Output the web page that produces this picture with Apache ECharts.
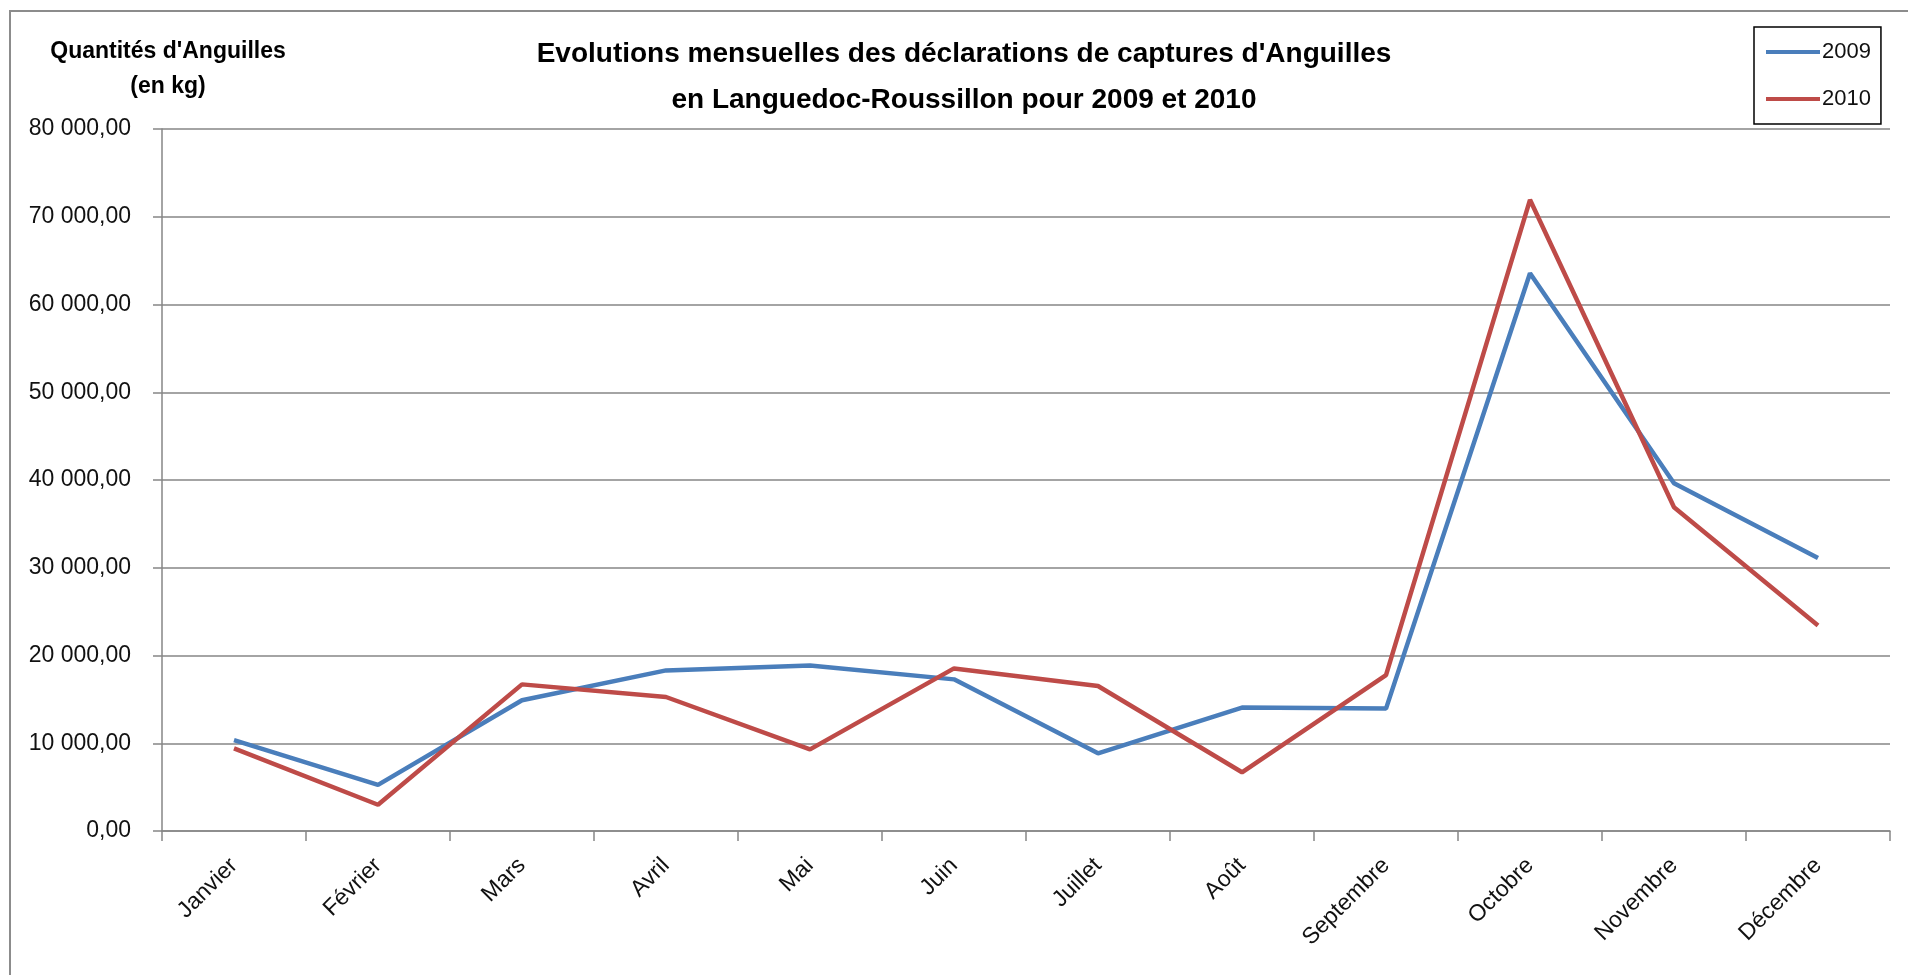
<!DOCTYPE html>
<html>
<head>
<meta charset="utf-8">
<script src="https://cdn.jsdelivr.net/npm/echarts@6/dist/echarts.min.js"></script>
<style>
  html, body { margin: 0; padding: 0; background: #fff; }
  #chart { width: 1908px; height: 975px; }
</style>
</head>
<body>
<div id="chart"></div>
<script>
// mois
const months = ['Janvier', 'Février', 'Mars', 'Avril', 'Mai', 'Juin', 'Juillet', 'Août', 'Septembre', 'Octobre', 'Novembre', 'Décembre']
// captures en kg
const values2009 = [10360, 5250, 14900, 18300, 18870, 17280, 8850, 14060, 13950, 63560, 39620, 31100]
const values2010 = [9410, 2990, 16710, 15270, 9300, 18530, 16520, 6690, 17770, 71930, 36890, 23410]
const yTicks = { min: 0, max: 80000, step: 10000 }

const font = 'Liberation Sans, Arial, sans-serif'
var Chart = echarts.init(document.getElementById('chart'), null, { renderer: 'canvas' })

// 80000 -> "80 000,00"
function formatKg(val) {
  return String(val).replace(/\B(?=(\d{3})+(?!\d))/g, ' ') + ',00'
}

var option = {
  backgroundColor: '#fff',
  animation: false,
  color: ['#4A7EBB', '#BE4B48'],
  graphic: [{
    type: 'rect',
    shape: { x: 10, y: 11, width: 2000, height: 2000 },
    style: { fill: 'none', stroke: '#8c8c8c', lineWidth: 2 },
    silent: true
  }],
  title: [{
    text: "Evolutions mensuelles des déclarations de captures d'Anguilles\nen Languedoc-Roussillon pour 2009 et 2010",
    left: 964,
    top: 31,
    padding: 0,
    textAlign: 'center',
    textStyle: { fontFamily: font, fontSize: 28, fontWeight: 'bold', color: '#000', lineHeight: 46 }
  }, {
    text: "Quantités d'Anguilles\n(en kg)",
    left: 168,
    top: 34,
    padding: 0,
    textAlign: 'center',
    textStyle: { fontFamily: font, fontSize: 23, fontWeight: 'bold', color: '#000', lineHeight: 35 }
  }],
  legend: {
    data: ['2009', '2010'],
    orient: 'vertical',
    left: 1754,
    top: 27,
    padding: [13, 10, 13, 12],
    itemGap: 23,
    itemWidth: 54,
    itemHeight: 4,
    icon: 'rect',
    borderColor: '#000',
    borderWidth: 1.5,
    borderRadius: 0,
    textStyle: { fontFamily: font, fontSize: 22, color: '#111', lineHeight: 24, padding: [0, 0, 0, -3] }
  },
  grid: {
    left: 162,
    right: 18,
    top: 129,
    bottom: 144,
    containLabel: false
  },
  xAxis: {
    type: 'category',
    data: months,
    boundaryGap: true,
    axisLine: { lineStyle: { color: '#868686', width: 1.5 } },
    axisTick: { show: true, interval: 0, length: 10, lineStyle: { color: '#868686', width: 1.5 } },
    axisLabel: { interval: 0, rotate: 45, margin: 31, fontFamily: font, fontSize: 23, color: '#111' }
  },
  yAxis: {
    type: 'value',
    min: yTicks.min,
    max: yTicks.max,
    interval: yTicks.step,
    axisLine: { show: true, lineStyle: { color: '#868686', width: 1.5 } },
    axisTick: { show: true, length: 9, lineStyle: { color: '#868686', width: 1.5 } },
    axisLabel: { margin: 31, fontFamily: font, fontSize: 23, color: '#111', formatter: formatKg },
    splitLine: { show: true, lineStyle: { color: '#868686', width: 1.5 } }
  },
  series: [{
    name: '2009',
    type: 'line',
    data: values2009,
    symbol: 'none',
    lineStyle: { width: 4.5 }
  }, {
    name: '2010',
    type: 'line',
    data: values2010,
    symbol: 'none',
    lineStyle: { width: 4.5 }
  }]
}

Chart.setOption(option)
</script>
</body>
</html>
